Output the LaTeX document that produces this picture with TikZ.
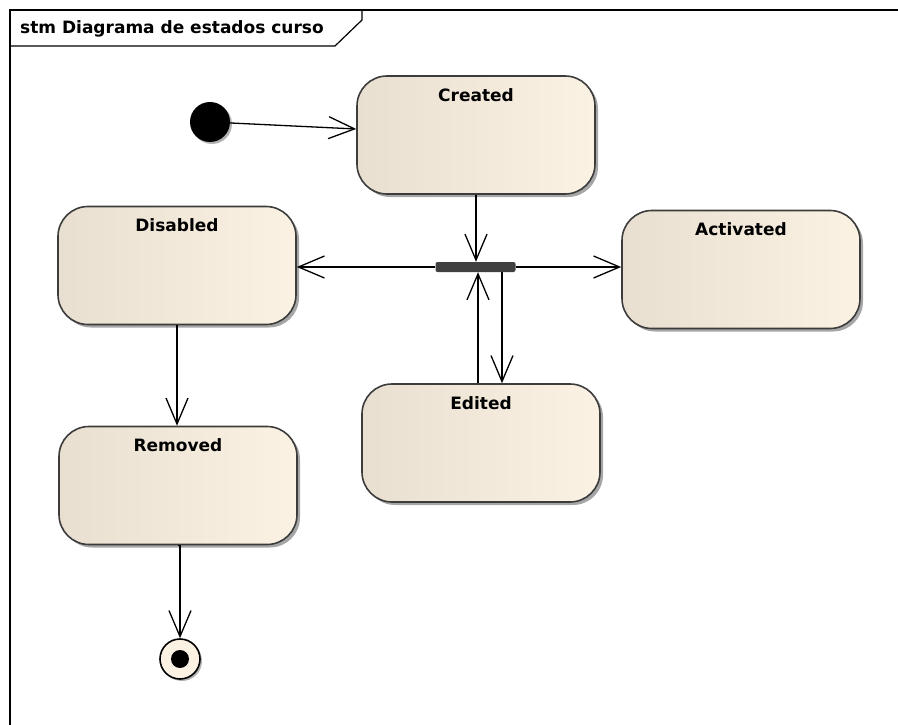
\documentclass[tikz,border=0pt]{standalone}
\usepackage{fontspec}
\setmainfont{DejaVu Sans}
\usetikzlibrary{arrows.meta,shadows}

\definecolor{stateleft}{RGB}{232,223,209}
\definecolor{stateright}{RGB}{251,242,228}
\definecolor{stateline}{RGB}{60,60,60}
\definecolor{barfill}{RGB}{64,64,64}

\begin{document}
\begin{tikzpicture}[
    x=1pt, y=-1pt,
    >={Straight Barb[length=26pt, width=22pt]},
    state/.style={draw=stateline, line width=1.6pt, rounded corners=30pt, minimum width=238pt, minimum height=118pt,
      left color=stateleft, right color=stateright,
      drop shadow={shadow xshift=3pt, shadow yshift=-3pt, fill=black, opacity=0.35}},
    stlabel/.style={anchor=north, inner sep=0pt, yshift=-13pt, font=\fontsize{17}{20}\selectfont\bfseries},
    flow/.style={->, line width=1.3pt},
    forkbar/.style={fill=barfill, rounded corners=2pt, minimum width=80pt, minimum height=10pt, inner sep=0pt},
    initial/.style={circle, fill=black, minimum size=40pt, inner sep=0pt,
      drop shadow={shadow xshift=2pt, shadow yshift=-2pt, fill=black, opacity=0.3}},
    final/.style={circle, draw=black, line width=1.6pt, fill=stateright, minimum size=40pt, inner sep=0pt,
      drop shadow={shadow xshift=2pt, shadow yshift=-2pt, fill=black, opacity=0.3}}
]
\useasboundingbox (0,0) rectangle (898,725);

% Frame
\draw[line width=1.2pt] (10,735) -- (10,10) -- (905,10);
\draw[line width=1.2pt] (10,46) -- (335,46) -- (362,20) -- (362,10);
\node[anchor=west, inner sep=0pt, font=\fontsize{17}{20}\selectfont\bfseries] (title) at (20,29) {stm Diagrama de estados curso};

% States
\node[initial] (start) at (210,122) {};
\node[state, label={[stlabel]north:Created}] (created) at (476,135) {};
\node[state, label={[stlabel]north:Disabled}] (disabled) at (177,265.5) {};
\node[state, label={[stlabel]north:Activated}] (activated) at (741,269.5) {};
\node[state, label={[stlabel]north:Edited}] (edited) at (481,443) {};
\node[state, label={[stlabel]north:Removed}] (removed) at (178,485.5) {};
\node[forkbar] (bar) at (475.5,267) {};
\node[final] (stop) at (180,659) {};
\node[circle, fill=black, minimum size=18pt, inner sep=0pt] (stopdot) at (stop) {};

% Transitions
\draw[flow] (start) -- ([yshift=6pt]created.west);
\draw[flow] (created.south) -- (created.south |- bar.north);
\draw[flow] (bar.west) -- (bar.west -| disabled.east);
\draw[flow] (bar.east) -- (bar.east -| activated.west);
\draw[flow] ([xshift=26.5pt]bar.south) -- ([xshift=26.5pt]bar.south |- edited.north);
\draw[flow] ([xshift=-3pt]edited.north) -- ([xshift=-3pt]edited.north |- bar.south);
\draw[flow] (disabled.south) -- (disabled.south |- removed.north);
\draw[flow] (removed.south) -- (removed.south -| stop) -- (stop.north);

\end{tikzpicture}
\end{document}
